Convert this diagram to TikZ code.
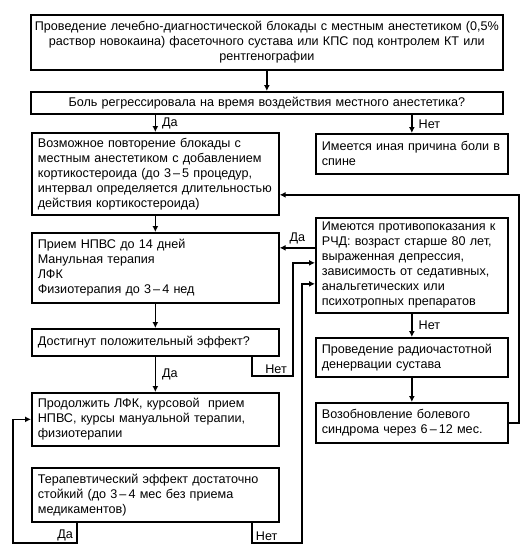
\documentclass[tikz,border=0pt]{standalone}
\usepackage{fontspec}
\setmainfont{Liberation Sans}
\usetikzlibrary{arrows.meta,calc,positioning}
\begin{document}
\begin{tikzpicture}[x=1pt,y=-1pt,
  box/.style={draw,line width=1.7pt,anchor=north west,inner xsep=6pt,inner ysep=0pt,
    font=\fontsize{12.6}{15}\selectfont,align=left},
  lbox/.style={box,text width=235pt},
  rbox/.style={box,text width=180pt},
  arr/.style={line width=1.6pt,-{Latex[length=6pt,width=6pt]}},
  lab/.style={font=\fontsize{12.6}{14}\selectfont,inner sep=1pt}]
\useasboundingbox (0,0) rectangle (527,551);
\node[box,inner xsep=3pt,text width=466pt,align=center,minimum height=55pt] (b1) at (30,14)
 {Проведение лечебно-диагностической блокады с местным анестетиком (0,5\%\\
  раствор новокаина) фасеточного сустава или КПС под контролем КТ или\\
  рентгенографии};
\node[box,inner xsep=3pt,text width=466pt,align=center,minimum height=22pt] (b2) at (30,91)
 {Боль регрессировала на время воздействия местного анестетика?};
\node[lbox,minimum height=82pt] (b3) at (31,132)
 {Возможное повторение блокады с\\ местным анестетиком с добавлением\\
  кортикостероида (до 3\,–\,5 процедур,\\ интервал определяется длительностью\\
  действия кортикостероида)};
\node[rbox,minimum height=40pt] (r1) at (315,133)
 {Имеется иная причина боли в\\ спине};
\node[lbox,minimum height=70pt] (b4) at (31,232)
 {Прием НПВС до 14 дней\\ Манульная терапия\\ ЛФК\\ Физиотерапия до 3\,–\,4 нед};
\node[rbox,minimum height=95pt] (p1) at (315,217)
 {Имеются противопоказания к\\ РЧД: возраст старше 80 лет,\\ выраженная депрессия,\\
  зависимость от седативных,\\ анальгетических или\\ психотропных препаратов};
\node[lbox,minimum height=27pt] (b5) at (31,328)
 {Достигнут положительный эффект?};
\node[rbox,minimum height=39pt] (p2) at (315,337)
 {Проведение радиочастотной\\ денервации сустава};
\node[rbox,minimum height=40pt] (p3) at (315,402)
 {Возобновление болевого\\ синдрома через 6\,–\,12 мес.};
\node[lbox,minimum height=53pt] (b6) at (31,392)
 {Продолжить ЛФК, курсовой \ прием\\ НПВС, курсы мануальной терапии,\\ физиотерапии};
\node[lbox,minimum height=54pt] (b7) at (31,467)
 {Терапевтический эффект достаточно\\ стойкий (до 3\,–\,4 мес без приема\\ медикаментов)};
% coordinates
\coordinate (da1) at ([yshift=17.5pt]p1.west);
\coordinate (in1) at ([yshift=2.5pt]p1.west);
\coordinate (in2) at ([yshift=-18.5pt]p1.west);
\coordinate (b5n) at ([xshift=-28pt]b5.south east);
\coordinate (bus1) at (293,376);
\coordinate (b7d) at ([xshift=46pt]b7.south west);
\coordinate (b7n) at ([xshift=-28pt]b7.south east);
\coordinate (lft) at (13,543);
\coordinate (bus2) at (302,543);
\coordinate (fb) at ([yshift=-21pt]b3.east);
\coordinate (rt) at (519,300);
% connectors
\draw[arr] (b1.south) -- (b2.north);
\draw[arr] (b3.north |- b2.south) -- (b3.north) node[lab,midway,right=5pt] {Да};
\draw[arr] (r1.north |- b2.south) -- (r1.north) node[lab,midway,right=5pt] {Нет};
\draw[arr] (b3.south) -- (b4.north);
\draw[arr] (b4.south) -- (b5.north);
\draw[arr] (b5.south) -- (b6.north) node[lab,midway,right=5pt] {Да};
\draw[arr] (da1) -- (da1 -| b4.east) node[lab,midway,above=2pt] {Да};
\draw[arr] (b5n) |- (bus1) |- (in1);
\node[lab,above left=1pt and 5pt of bus1] {Нет};
\draw[arr] (b7d) |- (lft) |- (b6.west);
\node[lab,above left=1pt and 3pt of {lft -| b7d}] {Да};
\draw[arr] (b7n) |- (bus2) |- (in2);
\node[lab,above right=1pt and 3pt of {lft -| b7n}] {Нет};
\draw[arr] (p1.south) -- (p2.north) node[lab,midway,right=5pt] {Нет};
\draw[arr] (p2.south) -- (p3.north);
\draw[arr] (p3.east) -- (p3.east -| rt) -- (rt |- fb) -- (fb);
\end{tikzpicture}
\end{document}
